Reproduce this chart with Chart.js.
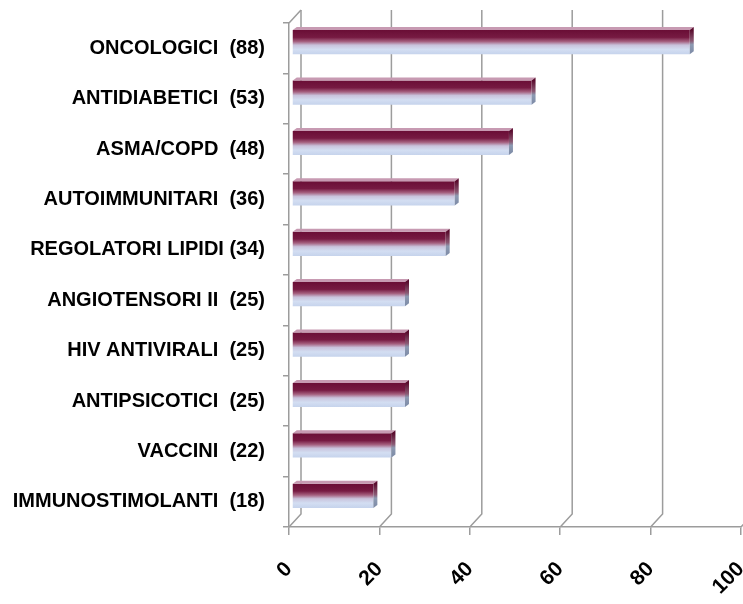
<!DOCTYPE html>
<html>
<head>
<meta charset="utf-8">
<script src="https://cdn.jsdelivr.net/npm/chart.js@4"></script>
<style>
  html, body { margin: 0; padding: 0; background: #fff; }
  #chart { display: block; }
</style>
</head>
<body>
<canvas id="chart" width="743" height="604"></canvas>
<script>
// Data
const categories = [
    'ONCOLOGICI  (88)',
    'ANTIDIABETICI  (53)',
    'ASMA/COPD  (48)',
    'AUTOIMMUNITARI  (36)',
    'REGOLATORI LIPIDI (34)',
    'ANGIOTENSORI II  (25)',
    'HIV ANTIVIRALI  (25)',
    'ANTIPSICOTICI  (25)',
    'VACCINI  (22)',
    'IMMUNOSTIMOLANTI  (18)'
];
const values = [88, 53, 48, 36, 34, 25, 25, 25, 22, 18];
const xTicks = [0, 20, 40, 60, 80, 100];

const labelFont = "'Liberation Sans', Arial, sans-serif";
const gridColor = '#9c9c9c';
const depthX = 12, depthY = 13;   // back wall offset
const barShift = { x: 3, y: -6 }; // bars sit a little into the box
const barPct = 0.48;

// Gradient for the bar front (maroon on top fading into pale blue)
function barGradient(context) {
    const chart = context.chart;
    const yScale = chart.scales.y;
    if (!chart.chartArea || !yScale) return '#8a2a50';
    const yc = yScale.getPixelForValue(context.dataIndex);
    const half = yScale.height / categories.length * barPct / 2;
    const g = chart.ctx.createLinearGradient(0, yc - half, 0, yc + half);
    g.addColorStop(0, '#6a0e36');
    g.addColorStop(0.3, '#761a42');
    g.addColorStop(0.47, '#a5607f');
    g.addColorStop(0.62, '#c9c3dc');
    g.addColorStop(0.8, '#d3def2');
    g.addColorStop(1, '#c6d3ec');
    return g;
}

// Back wall + gridlines drawn in "3D"
const backWall = {
    id: 'backWall',
    beforeDatasetsDraw(chart) {
        const { ctx, chartArea, scales: { x } } = chart;
        ctx.save();
        ctx.strokeStyle = gridColor;
        ctx.lineWidth = 1.5;
        xTicks.forEach(v => {
            const px = x.getPixelForValue(v);
            ctx.beginPath();
            ctx.moveTo(px + depthX, chartArea.top - depthY);
            ctx.lineTo(px + depthX, chartArea.bottom - depthY);
            ctx.lineTo(px, chartArea.bottom);
            ctx.stroke();
        });
        // top-left corner diagonal
        ctx.beginPath();
        ctx.moveTo(chartArea.left, chartArea.top);
        ctx.lineTo(chartArea.left + depthX, chartArea.top - depthY);
        ctx.stroke();
        ctx.restore();

        ctx.save();
        ctx.translate(barShift.x, barShift.y);
    },
    afterDatasetsDraw(chart) {
        const { ctx } = chart;
        const meta = chart.getDatasetMeta(0);
        meta.data.forEach(bar => {
            const { x, y, base, height } = bar.getProps(['x', 'y', 'base', 'height'], true);
            const top = y - height / 2, bottom = y + height / 2;
            const d = 4, dy = 3;
            // top face
            ctx.fillStyle = '#c79ab2';
            ctx.beginPath();
            ctx.moveTo(base, top);
            ctx.lineTo(base + d, top - dy);
            ctx.lineTo(x + d, top - dy);
            ctx.lineTo(x, top);
            ctx.closePath();
            ctx.fill();
            // side face
            const sg = ctx.createLinearGradient(0, top, 0, bottom);
            sg.addColorStop(0, '#5a0c2e');
            sg.addColorStop(0.45, '#8b5a74');
            sg.addColorStop(0.6, '#8d9ab2');
            sg.addColorStop(1, '#7c8aa6');
            ctx.fillStyle = sg;
            ctx.beginPath();
            ctx.moveTo(x, top);
            ctx.lineTo(x + d, top - dy);
            ctx.lineTo(x + d, bottom - dy);
            ctx.lineTo(x, bottom);
            ctx.closePath();
            ctx.fill();
        });
        ctx.restore();
    }
};

new Chart(document.getElementById('chart'), {
    type: 'bar',
    data: {
        labels: categories,
        datasets: [{
            data: values,
            backgroundColor: barGradient,
            borderWidth: 0,
            barPercentage: barPct,
            categoryPercentage: 1
        }]
    },
    options: {
        indexAxis: 'y',
        responsive: false,
        animation: false,
        layout: { padding: { top: 23, right: 2, left: 0, bottom: 0 } },
        plugins: {
            legend: { display: false },
            tooltip: { enabled: false }
        },
        scales: {
            x: {
                min: 0,
                max: 100,
                afterFit: scale => {
                    scale.height = 77;
                    scale.paddingLeft = 0;
                    scale.paddingRight = 0;
                },
                afterBuildTicks: scale => { scale.ticks = xTicks.map(v => ({ value: v })); },
                grid: { drawOnChartArea: false, color: gridColor, lineWidth: 1.5, tickLength: 8 },
                border: { color: gridColor, width: 1.5 },
                ticks: {
                    color: '#000',
                    minRotation: 45,
                    maxRotation: 45,
                    padding: 22,
                    font: { family: labelFont, size: 21, weight: 'bold' }
                }
            },
            y: {
                afterFit: scale => {
                    scale.width = 289;
                    scale.paddingTop = 0;
                    scale.paddingBottom = 0;
                },
                grid: { drawOnChartArea: false, color: gridColor, lineWidth: 1.5, tickLength: 6 },
                border: { color: gridColor, width: 1.5 },
                ticks: {
                    color: '#000',
                    padding: 18,
                    autoSkip: false,
                    font: { family: labelFont, size: 20, weight: 'bold' }
                }
            }
        }
    },
    plugins: [backWall]
});
</script>
</body>
</html>
